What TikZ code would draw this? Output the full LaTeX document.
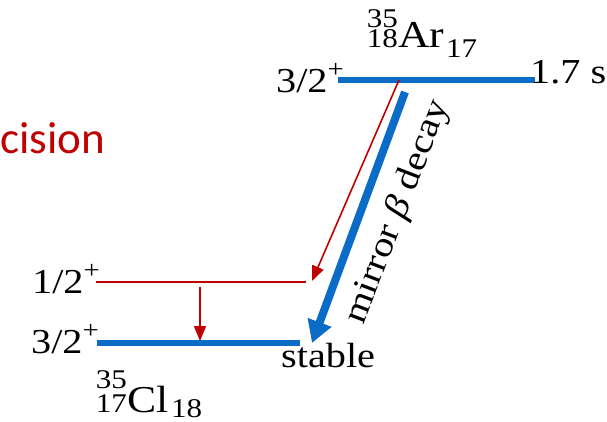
\documentclass[tikz,border=0pt]{standalone}
\usepackage{fontspec}
\setmainfont[FakeStretch=1.15]{Liberation Serif}
\newfontfamily\calib{Carlito}
\usetikzlibrary{arrows.meta}
\definecolor{lvlblue}{HTML}{0A6CC6}
\definecolor{lvlred}{HTML}{C00000}
\newcommand\plusmark{\raisebox{15pt}{\fontsize{25}{25}\selectfont +}}
\begin{document}
\begin{tikzpicture}[x=1pt,y=-1pt,
  lbl/.style={inner sep=0pt,font=\fontsize{35}{38}\selectfont},
  nucmain/.style={inner sep=0pt,font=\fontsize{38}{40}\selectfont},
  nucscr/.style={inner sep=0pt,font=\fontsize{27}{28}\selectfont},
  bluelvl/.style={draw=lvlblue,line width=6.5pt},
  redlvl/.style={draw=lvlred,line width=1.6pt},
  redarr/.style={draw=lvlred,line width=1.6pt,-{Triangle[length=15pt,width=12pt]}},
  bluearr/.style={draw=lvlblue,line width=8pt,-{Triangle[length=22pt,width=24pt]}}]
\useasboundingbox (0,0) rectangle (607,421);
% coordinates
\coordinate (arL) at (338,80);
\coordinate (arR) at (535,80);
\coordinate (redL) at (96,282);
\coordinate (redR) at (306,282);
\coordinate (clL) at (97,343);
\coordinate (clR) at (300,343);
\coordinate (rdS) at (399,80);
\coordinate (rdE) at (312,281);
\coordinate (vS) at (200,287);
\coordinate (vE) at (200,341);
\coordinate (bS) at (405,92);
\coordinate (bE) at (312,343);
% levels
\draw[bluelvl] (arL) -- (arR);
\draw[redlvl] (redL) -- (redR);
\draw[bluelvl] (clL) -- (clR);
% arrows
\draw[redarr] (rdS) -- (rdE);
\draw[redarr] (vS) -- (vE);
\draw[bluearr] (bS) -- (bE);
% labels
\node[lbl,anchor=base east] (jTop) at (344,92) {3/2\plusmark};
\node[lbl,anchor=base west] (tHalf) at (530,83) {1.7 s};
\node[lbl,anchor=base east] (jMid) at (100,293) {1/2\plusmark};
\node[lbl,anchor=base east] (jBot) at (99,353) {3/2\plusmark};
\node[lbl,anchor=base west] (stab) at (281,367) {stable};
\node[lbl,rotate=69] (mir) at (398,212) {mirror \textit{β} decay};
% Ar nuclide
\node[nucscr,anchor=base east] (arA) at (398,27) {35};
\node[nucscr,anchor=base east] (arZ) at (398,47) {18};
\node[nucmain,anchor=base west] (arS) at (398,47) {Ar};
\node[nucscr,anchor=base west] (arN) at (446,57) {17};
% Cl nuclide
\node[nucscr,anchor=base east] (clA) at (127,388) {35};
\node[nucscr,anchor=base east] (clZ) at (127,412) {17};
\node[nucmain,anchor=base west] (clS) at (127,412) {Cl};
\node[nucscr,anchor=base west] (clN) at (171,417) {18};
% partial title
\node[inner sep=0pt,anchor=base west,text=lvlred,font=\calib\fontsize{45}{48}\selectfont] (prec) at (0,153) {cision};
\end{tikzpicture}
\end{document}
